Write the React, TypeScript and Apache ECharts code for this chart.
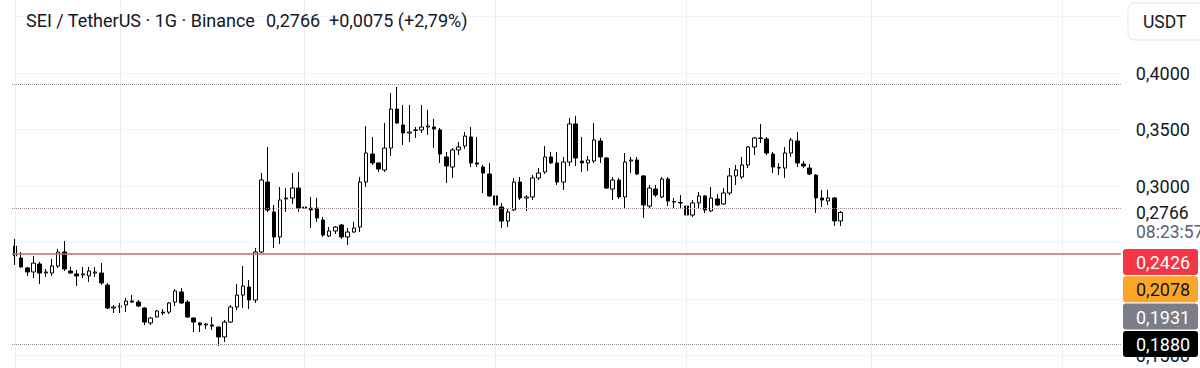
import React, { useEffect, useRef } from "react";
import * as echarts from "echarts";

// Daily candles, SEI / TetherUS
const opens = [
  0.2469, 0.2363, 0.2275, 0.2239, 0.2310, 0.2230, 0.2230, 0.2292, 0.2416, 0.2248,
  0.2222, 0.2213, 0.2204, 0.2230, 0.2230, 0.2124, 0.1920, 0.1929, 0.1947, 0.1982,
  0.1973, 0.1920, 0.1788, 0.1841, 0.1884, 0.1884, 0.1973, 0.2062, 0.1973, 0.1832,
  0.1788, 0.1770, 0.1770, 0.1752, 0.1664, 0.1796, 0.1929, 0.2035, 0.2106, 0.1991,
  0.2416, 0.3035, 0.2770, 0.2549, 0.2885, 0.2894, 0.2982, 0.2814, 0.2805, 0.2805,
  0.2699, 0.2557, 0.2602, 0.2655, 0.2549, 0.2593, 0.2637, 0.3035, 0.3283, 0.3204,
  0.3142, 0.3336, 0.3681, 0.3540, 0.3469, 0.3492, 0.3496, 0.3522, 0.3522, 0.3496,
  0.3257, 0.3168, 0.3319, 0.3354, 0.3434, 0.3204, 0.3168, 0.3106, 0.2912, 0.2814,
  0.2690, 0.2788, 0.3035, 0.2894, 0.2903, 0.3071, 0.3124, 0.3257, 0.3204, 0.3035,
  0.3212, 0.3549, 0.3221, 0.3204, 0.3221, 0.3398, 0.3248, 0.2973, 0.3053, 0.2903,
  0.3221, 0.3230, 0.3089, 0.2823, 0.2973, 0.2903, 0.3062, 0.2858, 0.2854, 0.2823,
  0.2743, 0.2850, 0.2912, 0.2779, 0.2885, 0.2841, 0.2938, 0.3089, 0.3080, 0.3186,
  0.3345, 0.3425, 0.3416, 0.3283, 0.3159, 0.3159, 0.3292, 0.3398, 0.3195, 0.3159,
  0.3097, 0.2894, 0.2867, 0.2894, 0.2691,
];
const closes = [
  0.2381, 0.2284, 0.2239, 0.2318, 0.2230, 0.2239, 0.2292, 0.2416, 0.2266, 0.2230,
  0.2204, 0.2222, 0.2248, 0.2239, 0.2142, 0.1920, 0.1929, 0.1938, 0.1982, 0.1973,
  0.1938, 0.1796, 0.1832, 0.1894, 0.1876, 0.1965, 0.2071, 0.1965, 0.1841, 0.1796,
  0.1770, 0.1779, 0.1761, 0.1664, 0.1796, 0.1929, 0.2035, 0.2115, 0.1991, 0.2416,
  0.3053, 0.2788, 0.2549, 0.2876, 0.2894, 0.2982, 0.2805, 0.2805, 0.2788, 0.2717,
  0.2566, 0.2602, 0.2637, 0.2549, 0.2593, 0.2628, 0.3035, 0.3292, 0.3204, 0.3150,
  0.3336, 0.3681, 0.3558, 0.3469, 0.3478, 0.3496, 0.3522, 0.3531, 0.3504, 0.3283,
  0.3177, 0.3319, 0.3345, 0.3442, 0.3204, 0.3195, 0.3115, 0.2912, 0.2832, 0.2690,
  0.2770, 0.3035, 0.2894, 0.2903, 0.3071, 0.3115, 0.3257, 0.3204, 0.3035, 0.3212,
  0.3549, 0.3248, 0.3204, 0.3230, 0.3407, 0.3257, 0.2982, 0.3053, 0.2903, 0.3212,
  0.3230, 0.3106, 0.2832, 0.2982, 0.2920, 0.3062, 0.2867, 0.2862, 0.2850, 0.2743,
  0.2850, 0.2912, 0.2788, 0.2894, 0.2832, 0.2938, 0.3089, 0.3142, 0.3186, 0.3345,
  0.3425, 0.3420, 0.3292, 0.3168, 0.3164, 0.3292, 0.3407, 0.3204, 0.3177, 0.3106,
  0.2894, 0.2876, 0.2894, 0.2691, 0.2766,
];
const lows = [
  0.2301, 0.2275, 0.2204, 0.2186, 0.2133, 0.2195, 0.2204, 0.2275, 0.2248, 0.2222,
  0.2115, 0.2186, 0.2151, 0.2195, 0.2124, 0.1911, 0.1876, 0.1876, 0.1884, 0.1965,
  0.1929, 0.1770, 0.1770, 0.1838, 0.1858, 0.1867, 0.1938, 0.1956, 0.1832, 0.1708,
  0.1708, 0.1735, 0.1726, 0.1584, 0.1619, 0.1788, 0.1903, 0.1920, 0.1911, 0.1965,
  0.2407, 0.2770, 0.2452, 0.2487, 0.2770, 0.2841, 0.2770, 0.2744, 0.2628, 0.2682,
  0.2549, 0.2549, 0.2575, 0.2531, 0.2478, 0.2584, 0.2593, 0.2991, 0.3186, 0.3124,
  0.3124, 0.3265, 0.3549, 0.3363, 0.3390, 0.3425, 0.3469, 0.3451, 0.3336, 0.3204,
  0.3027, 0.3071, 0.3274, 0.3328, 0.3168, 0.3168, 0.2938, 0.2903, 0.2823, 0.2628,
  0.2637, 0.2779, 0.2876, 0.2779, 0.2876, 0.3053, 0.3106, 0.3195, 0.3009, 0.2965,
  0.3177, 0.3177, 0.3124, 0.3133, 0.3204, 0.3204, 0.2973, 0.2876, 0.2885, 0.2805,
  0.3115, 0.3097, 0.2717, 0.2805, 0.2903, 0.2894, 0.2823, 0.2805, 0.2805, 0.2673,
  0.2726, 0.2805, 0.2761, 0.2770, 0.2823, 0.2832, 0.2920, 0.3009, 0.3062, 0.3159,
  0.3274, 0.3381, 0.3274, 0.3115, 0.3097, 0.3071, 0.3257, 0.3168, 0.3159, 0.3097,
  0.2761, 0.2814, 0.2832, 0.2646, 0.2646,
];
const highs = [
  0.2531, 0.2416, 0.2284, 0.2381, 0.2327, 0.2266, 0.2354, 0.2443, 0.2513, 0.2284,
  0.2257, 0.2284, 0.2284, 0.2284, 0.2318, 0.2142, 0.1947, 0.1965, 0.2009, 0.2035,
  0.1991, 0.1929, 0.1841, 0.1903, 0.1911, 0.1973, 0.2089, 0.2097, 0.1991, 0.1835,
  0.1796, 0.1788, 0.1841, 0.1755, 0.1814, 0.1947, 0.2133, 0.2292, 0.2168, 0.2452,
  0.3115, 0.3345, 0.2832, 0.2991, 0.2982, 0.3115, 0.3124, 0.2894, 0.2903, 0.2894,
  0.2726, 0.2637, 0.2646, 0.2664, 0.2628, 0.2682, 0.3080, 0.3531, 0.3434, 0.3208,
  0.3558, 0.3823, 0.3876, 0.3717, 0.3717, 0.3522, 0.3717, 0.3673, 0.3593, 0.3513,
  0.3301, 0.3336, 0.3390, 0.3478, 0.3522, 0.3434, 0.3186, 0.3204, 0.2947, 0.2850,
  0.2797, 0.3071, 0.3080, 0.2920, 0.3097, 0.3159, 0.3354, 0.3301, 0.3301, 0.3257,
  0.3602, 0.3620, 0.3434, 0.3265, 0.3558, 0.3425, 0.3257, 0.3080, 0.3071, 0.3292,
  0.3257, 0.3257, 0.3097, 0.3009, 0.3009, 0.3080, 0.3080, 0.2894, 0.2920, 0.2876,
  0.2876, 0.2947, 0.2920, 0.2991, 0.2929, 0.2982, 0.3159, 0.3186, 0.3257, 0.3354,
  0.3434, 0.3549, 0.3434, 0.3301, 0.3204, 0.3345, 0.3425, 0.3478, 0.3221, 0.3195,
  0.3106, 0.2965, 0.2965, 0.2903, 0.2779,
];

// time slots on the axis (135 candles + empty space on the right)
const slotCount = 180;
const monthStartSlots = [0, 17, 47, 78, 109, 139, 170];

// price axis
const priceMin = 0.1;
const priceMax = 0.5;
const priceStep = 0.05;
// ticks whose labels are outside the window or covered by label boxes in the original
const hiddenTickValues = [0.1, 0.2, 0.25, 0.45, 0.5];

// price levels
const lastPrice = 0.2766;
const rangeHigh = 0.3876;
const rangeLow = 0.1584;
const alertLevel = 0.2426;

// texts
const titleMain = "SEI / TetherUS · 1G · Binance";
const titlePrice = "0,2766";
const titleChange = "+0,0075 (+2,79%)";
const currencyLabel = "USDT";
const countdownLabel = "08:23:57";
const sideLabels = ["0,2426", "0,2078", "0,1931", "0,1880"];
const sideLabelBg = ["#f23645", "#fba626", "#7b7e89", "#000000"];
const sideLabelFg = ["#ffffff", "#131722", "#ffffff", "#ffffff"];

const FONT = "Roboto, 'Noto Sans', sans-serif";
const OFFSET = 40; // the chart canvas starts 40px above the visible window

export default function App() {
  const ref = useRef<HTMLDivElement>(null);

  useEffect(() => {
    if (!ref.current) return;
    const chart = echarts.init(ref.current, null, { renderer: "svg" });

    const slots = Array.from({ length: slotCount }, (_, i) => String(i + 1));
    const candles = opens.map((o, i) => [o, closes[i], lows[i], highs[i]]);

    const fmt = (v: number) => v.toFixed(4).replace(".", ",");
    const isHidden = (v: number) => hiddenTickValues.some((h) => Math.abs(h - v) < 1e-6);

    const txt = (text: string, x: number, y: number, fill: string, size = 18) => ({
      type: "text",
      x,
      y,
      z: 101,
      style: { text, fill, fontSize: size, fontFamily: FONT, verticalAlign: "middle" },
    });

    const children: any[] = [
      txt(titleMain, 26, 20.5, "#131722"),
      txt(titlePrice, 266, 20.5, "#131722"),
      txt(titleChange, 329, 20.5, "#131722"),
      {
        type: "rect",
        z: 100,
        shape: { x: 1128, y: 3, width: 80, height: 37, r: 6 },
        style: { fill: "#ffffff", stroke: "#e0e3eb", lineWidth: 1 },
      },
      txt(currencyLabel, 1143, 21.5, "#131722", 17.5),
      {
        type: "rect",
        z: 100,
        shape: { x: 1123, y: 199, width: 80, height: 49 },
        style: { fill: "#ffffff" },
      },
      txt(fmt(lastPrice), 1136, 213, "#131722", 17.5),
      txt(countdownLabel, 1136, 232, "#5d606b", 17.5),
    ];

    sideLabels.forEach((t, i) => {
      const top = 249 + i * 27.3;
      children.push({
        type: "rect",
        z: 100,
        shape: { x: 1123, y: top, width: 75, height: 26, r: 3 },
        style: { fill: sideLabelBg[i] },
      });
      children.push(txt(t, 1136, top + 13.5, sideLabelFg[i]));
    });

    const option: any = {
      animation: false,
      backgroundColor: "#ffffff",
      grid: {
        left: 12,
        right: 79.2,
        top: 0,
        bottom: 0,
        containLabel: false,
        outerBoundsMode: "none",
      },
      xAxis: {
        type: "category",
        data: slots,
        boundaryGap: true,
        axisLine: { show: false },
        axisTick: { show: false },
        axisLabel: { show: false },
        splitLine: { show: false },
      },
      yAxis: {
        type: "value",
        position: "right",
        min: priceMin,
        max: priceMax,
        interval: priceStep,
        axisLine: { show: false },
        axisTick: { show: false },
        splitLine: { show: true, lineStyle: { color: "#f0f3fa", width: 1 } },
        axisLabel: {
          formatter: (v: number) => (isHidden(v) ? "" : fmt(v)),
          color: "#131722",
          fontSize: 18,
          fontFamily: FONT,
          margin: 15,
          align: "left",
        },
      },
      series: [
        {
          type: "line",
          data: [],
          silent: true,
          z: 1,
          markLine: {
            silent: true,
            symbol: ["none", "none"],
            label: { show: false },
            lineStyle: { color: "#eceef3", width: 1, type: "solid" },
            data: monthStartSlots.map((s) => ({ xAxis: s })),
          },
        },
        {
          type: "candlestick",
          z: 3,
          data: candles,
          barWidth: 4,
          itemStyle: {
            color: "#ffffff",
            color0: "#000000",
            borderColor: "#000000",
            borderColor0: "#000000",
            borderWidth: 1,
          },
          markLine: {
            silent: true,
            symbol: ["none", "none"],
            label: { show: false },
            data: [
              { yAxis: alertLevel, lineStyle: { color: "#b86e6e", width: 1.5, type: "solid" } },
              { yAxis: rangeHigh, lineStyle: { color: "#8f929c", width: 1, type: "dotted" } },
              { yAxis: rangeLow, lineStyle: { color: "#8f929c", width: 1, type: "dotted" } },
              { yAxis: lastPrice, lineStyle: { color: "#9c8890", width: 1, type: "dotted" } },
            ],
          },
        },
      ],
      graphic: [{ type: "group", x: 0, y: OFFSET, children }],
    };

    chart.setOption(option);
    return () => chart.dispose();
  }, []);

  return (
    <div
      style={{
        position: "absolute",
        left: 0,
        top: 0,
        width: 1200,
        height: 368,
        overflow: "hidden",
        background: "#ffffff",
      }}
    >
      <div
        ref={ref}
        style={{ position: "absolute", left: 0, top: -OFFSET, width: 1200, height: 452 }}
      />
    </div>
  );
}
